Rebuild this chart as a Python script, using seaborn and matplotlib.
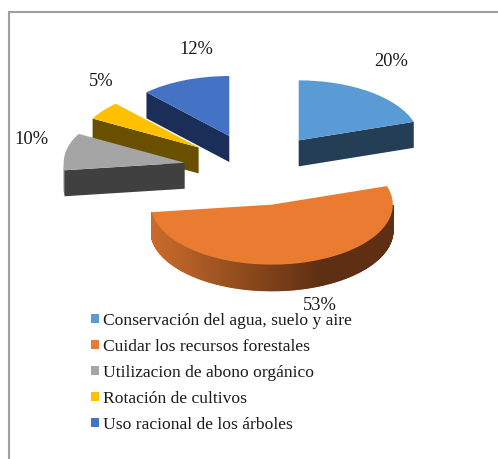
import numpy as np
import matplotlib
matplotlib.use("Agg")
import matplotlib.pyplot as plt
from matplotlib.patches import Rectangle
import seaborn as sns

categories = ["Conservación del agua, suelo y aire", "Cuidar los recursos forestales",
              "Utilizacion de abono orgánico", "Rotación de cultivos", "Uso racional de los árboles"]
values = [20, 53, 10, 5, 12]
top_colors = ["#5B9BD5", "#E97C30", "#A5A5A5", "#FFC000", "#4472C4"]
wall_colors = ["#243E55", "#5E2F12", "#404040", "#685000", "#1B2E57"]

W, H = 498, 459
RX, RY = 121.0, 60.0      # pixels per data unit
CX, CY = 256.0, 169.5     # pie centre in pixels
DEPTH = 26.0 / RY
EXPLODE = 0.6
label_px = [(391, 62), (320, 305), (31, 139), (101, 81), (196, 50)]

sns.set_theme(style="white")
plt.rcParams['font.family'] = ['Liberation Serif', 'DejaVu Serif']

fig, ax = plt.subplots(figsize=(W / 100, H / 100), dpi=100)
ax.set_position([0, 0, 1, 1])

wedges, _ = ax.pie(values, colors=top_colors, explode=[EXPLODE] * len(values), startangle=90,
                   counterclock=False, wedgeprops=dict(linewidth=0))
ax.set_aspect('auto')
ax.set_xlim(-CX / RX, (W - CX) / RX)
ax.set_ylim(-(H - CY) / RY, CY / RY)
ax.axis('off')

gradient = sns.blend_palette(["#C96B2B", "#5E2F12"], 60)


def draw_walls(wedge, wall_color, use_gradient, z):
    cx, cy = wedge.center
    t1, t2 = wedge.theta1, wedge.theta2
    # flat cut faces, only those turned towards the viewer
    for t, visible in ((t1, np.cos(np.radians(t1)) > 1e-6), (t2, np.cos(np.radians(t2)) < -1e-6)):
        if visible:
            ex, ey = cx + np.cos(np.radians(t)), cy + np.sin(np.radians(t))
            ax.fill([cx, ex, ex, cx], [cy, ey, ey - DEPTH, cy - DEPTH], color=wall_color, lw=0, zorder=z)
    # rim, lower half of the ellipse only
    th = np.radians(np.linspace(t1, t2, 241))
    th = th[np.sin(th) <= 0]
    if len(th) < 2:
        return
    x, y = cx + np.cos(th), cy + np.sin(th)
    if not use_gradient:
        ax.fill(np.r_[x, x[::-1]], np.r_[y, y[::-1] - DEPTH], color=wall_color, lw=0, zorder=z)
        return
    for i in range(len(th) - 1):
        frac = np.clip((x[i] - x.min()) / (0.7 * (x.max() - x.min())), 0, 1)
        c = gradient[int(frac * (len(gradient) - 1))]
        ax.fill([x[i], x[i + 1], x[i + 1], x[i]], [y[i], y[i + 1], y[i + 1] - DEPTH, y[i] - DEPTH],
                color=c, lw=1.0, zorder=z)


for i, w in enumerate(wedges):
    z = 3 - w.center[1]
    draw_walls(w, wall_colors[i], i == 1, z)
    w.set_zorder(z + 0.01)

for v, (px, py) in zip(values, label_px):
    fig.text(px / W, 1 - py / H, f"{v}%", fontsize=13.3, color="#1a1a1a", ha='center', va='center')

fig.legend(wedges, categories, loc='upper left', bbox_to_anchor=(77 / W, 1 - 299 / H), frameon=False,
           fontsize=12.6, handlelength=0.45, handleheight=0.45, handletextpad=0.25, labelspacing=0.565,
           borderpad=0.3, labelcolor="#1a1a1a")

fig.add_artist(Rectangle((9 / W, -0.05), 1.1, 1 - 12.5 / H + 0.05, transform=fig.transFigure,
                         fill=False, edgecolor="#A0A0A0", lw=1.5))

fig.savefig("out.png", dpi=100)
